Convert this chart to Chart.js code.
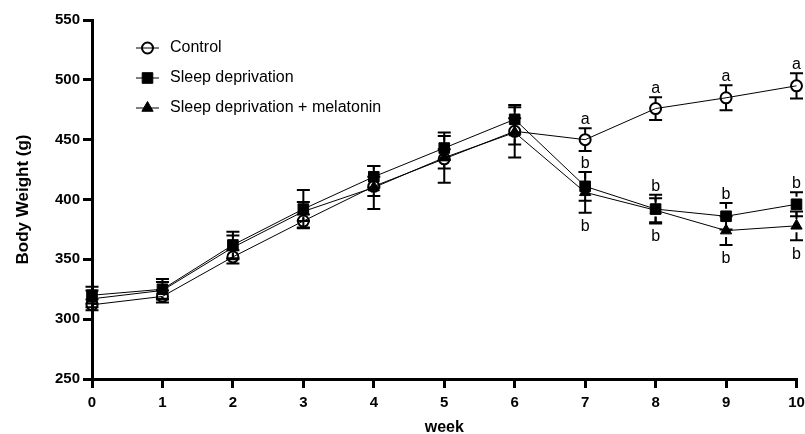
<!DOCTYPE html>
<html>
<head>
<meta charset="utf-8">
<script src="https://cdn.jsdelivr.net/npm/chart.js@4"></script>
<style>
  html, body { margin: 0; padding: 0; background: #fff; overflow: hidden; }
  canvas { display: block; }
</style>
</head>
<body>
<canvas id="chart" width="805" height="434"></canvas>
<script>
const weeks = [0, 1, 2, 3, 4, 5, 6, 7, 8, 9, 10];
const seriesNames = ["Control", "Sleep deprivation", "Sleep deprivation + melatonin"];

const control = [312, 319, 352, 382, 411, 434, 457, 450, 476, 485, 495];
const controlErr = [4.5, 5, 5.5, 5.5, 8, 8, 11, 9.5, 9.5, 10.5, 10.5];
const sleepDep = [320, 325, 362, 392, 419, 443, 467, 411, 392, 386, 396];
const sleepDepErr = [7, 8.5, 11, 16, 9, 10, 12, 12, 12, 11, 10];
const sleepDepMel = [317, 324, 360, 390, 410, 435, 456, 406, 391, 374, 378];
const sleepDepMelErr = [7, 7, 10, 8, 18, 21, 21, 17, 10, 12, 12];

// significance letters (above control, above SD, below SD + melatonin)
const controlLetters = ["", "", "", "", "", "", "", "a", "a", "a", "a"];
const sleepDepLetters = ["", "", "", "", "", "", "", "b", "b", "b", "b"];
const sleepDepMelLetters = ["", "", "", "", "", "", "", "b", "b", "b", "b"];

const yTicks = [250, 300, 350, 400, 450, 500, 550];

const FONT = "'Liberation Sans', Arial, Helvetica, sans-serif";

function toPoints(vals) {
  return weeks.map((w, i) => ({ x: w, y: vals[i] }));
}

// error bars + letters, drawn through the chart scales
const errorBars = {
  id: "errorBars",
  afterDatasetsDraw(chart) {
    const { ctx, scales: { x, y } } = chart;
    ctx.save();
    ctx.strokeStyle = "#000";
    ctx.lineWidth = 2;
    chart.data.datasets.forEach((ds) => {
      const r = ds.pointRadius;
      ds.data.forEach((p, i) => {
        const px = x.getPixelForValue(p.x);
        const py = y.getPixelForValue(p.y);
        const top = y.getPixelForValue(p.y + ds.err[i]);
        const bot = y.getPixelForValue(p.y - ds.err[i]);
        ctx.beginPath();
        if (py - r > top) { ctx.moveTo(px, py - r); ctx.lineTo(px, top); }
        if (py + r < bot) { ctx.moveTo(px, py + r); ctx.lineTo(px, bot); }
        ctx.moveTo(px - 6.5, top); ctx.lineTo(px + 6.5, top);
        ctx.moveTo(px - 6.5, bot); ctx.lineTo(px + 6.5, bot);
        ctx.stroke();

        const letter = ds.letters[i];
        if (letter) {
          ctx.fillStyle = "#000";
          ctx.font = "16px " + FONT;
          ctx.textAlign = "center";
          if (ds.letterPos === "below") {
            ctx.textBaseline = "top";
            ctx.fillText(letter, px, bot + 6);
          } else {
            ctx.textBaseline = "alphabetic";
            ctx.fillText(letter, px, top - 4);
          }
        }
      });
    });
    ctx.restore();
  }
};

// legend in the upper left of the plot, Prism style (line through symbol)
const insideLegend = {
  id: "insideLegend",
  afterDraw(chart) {
    const { ctx } = chart;
    ctx.save();
    chart.data.datasets.forEach((ds, i) => {
      const cy = 48 + i * 30;
      const cx = 147.5;
      ctx.strokeStyle = "#000";
      ctx.lineWidth = 1;
      ctx.beginPath();
      ctx.moveTo(136, cy);
      ctx.lineTo(159, cy);
      ctx.stroke();
      ctx.fillStyle = ds.pointBackgroundColor;
      ctx.lineWidth = ds.pointBorderWidth;
      ctx.beginPath();
      if (ds.pointStyle === "circle") {
        ctx.arc(cx, cy, ds.pointRadius, 0, Math.PI * 2);
      } else if (ds.pointStyle === "rect") {
        const s = ds.pointRadius * Math.SQRT1_2;
        ctx.rect(cx - s, cy - s, 2 * s, 2 * s);
      } else {
        const r = ds.pointRadius;
        ctx.moveTo(cx, cy - r);
        ctx.lineTo(cx + r * 0.866, cy + r * 0.5);
        ctx.lineTo(cx - r * 0.866, cy + r * 0.5);
        ctx.closePath();
      }
      ctx.fill();
      ctx.stroke();
      ctx.fillStyle = "#000";
      ctx.font = "16px " + FONT;
      ctx.textAlign = "left";
      ctx.textBaseline = "middle";
      ctx.fillText(ds.label, 170, cy);
    });
    ctx.restore();
  }
};

new Chart(document.getElementById("chart"), {
  type: "line",
  data: {
    datasets: [
      {
        label: seriesNames[0],
        data: toPoints(control),
        err: controlErr,
        letters: controlLetters,
        letterPos: "above",
        clip: false,
        borderColor: "#000",
        borderWidth: 1,
        pointStyle: "circle",
        pointRadius: 5.5,
        pointBorderWidth: 2,
        pointBorderColor: "#000",
        pointBackgroundColor: "rgba(255,255,255,0)"
      },
      {
        label: seriesNames[1],
        data: toPoints(sleepDep),
        err: sleepDepErr,
        letters: sleepDepLetters,
        letterPos: "above",
        clip: false,
        borderColor: "#000",
        borderWidth: 1,
        pointStyle: "rect",
        pointRadius: 7.5,
        pointBorderWidth: 1,
        pointBorderColor: "#000",
        pointBackgroundColor: "#000"
      },
      {
        label: seriesNames[2],
        data: toPoints(sleepDepMel),
        err: sleepDepMelErr,
        letters: sleepDepMelLetters,
        letterPos: "below",
        clip: false,
        borderColor: "#000",
        borderWidth: 1,
        pointStyle: "triangle",
        pointRadius: 6.5,
        pointBorderWidth: 1,
        pointBorderColor: "#000",
        pointBackgroundColor: "#000"
      }
    ]
  },
  options: {
    responsive: false,
    animation: false,
    devicePixelRatio: 1,
    layout: { padding: { top: 20, right: 0, bottom: 0, left: 0 } },
    plugins: {
      legend: { display: false },
      tooltip: { enabled: false }
    },
    scales: {
      x: {
        type: "linear",
        min: 0,
        max: 10,
        afterFit(scale) {
          scale.height = 55;
          scale.paddingRight = 8;
        },
        ticks: {
          stepSize: 1,
          color: "#000",
          padding: 6,
          maxRotation: 0,
          font: { family: FONT, size: 15, weight: "bold" }
        },
        grid: {
          drawOnChartArea: false,
          drawTicks: true,
          tickLength: 9,
          lineWidth: 3,
          color: "#000"
        },
        border: { display: true, width: 3, color: "#000" },
        title: {
          display: true,
          text: "week",
          color: "#000",
          padding: { top: 0, bottom: 0 },
          font: { family: FONT, size: 16, weight: "bold", lineHeight: 0.8 }
        }
      },
      y: {
        min: 250,
        max: 550,
        afterFit(scale) { scale.width = 92; },
        afterBuildTicks(scale) { scale.ticks = yTicks.map((v) => ({ value: v })); },
        ticks: {
          color: "#000",
          padding: 3,
          font: { family: FONT, size: 15, weight: "bold" }
        },
        grid: {
          drawOnChartArea: false,
          drawTicks: true,
          tickLength: 9,
          lineWidth: 3,
          color: "#000"
        },
        border: { display: true, width: 3, color: "#000" },
        title: {
          display: true,
          text: "Body Weight (g)",
          color: "#000",
          padding: { top: 13, bottom: 0 },
          font: { family: FONT, size: 17, weight: "bold", lineHeight: 1.2 }
        }
      }
    }
  },
  plugins: [errorBars, insideLegend]
});
</script>
</body>
</html>
